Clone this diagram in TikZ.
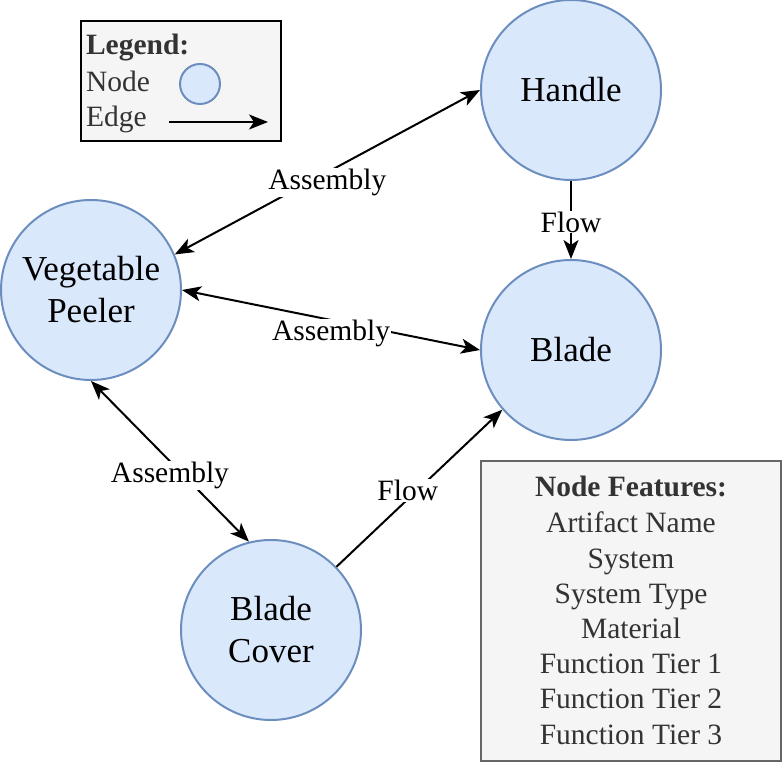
\documentclass[tikz,border=0pt]{standalone}
\usepackage{fontspec}
\setmainfont{Liberation Serif}
\usetikzlibrary{positioning, arrows.meta}

\definecolor{partfill}{HTML}{DAE8FC}
\definecolor{partline}{HTML}{6C8EBF}
\definecolor{boxfill}{HTML}{F5F5F5}
\definecolor{boxline}{HTML}{666666}
\definecolor{boxtext}{HTML}{333333}

\begin{document}
\begin{tikzpicture}[x=1pt,y=1pt,on grid,line width=2pt,
   >={Stealth[length=19pt,width=15pt,inset=5pt]},
   part/.style={circle,draw=partline,fill=partfill,minimum size=180pt,inner sep=0pt,
      align=center,font=\fontsize{35}{42}\selectfont},
   lbl/.style={fill=white,inner sep=1pt,font=\fontsize{29.5}{36}\selectfont},
   keytext/.style={anchor=base west,inner sep=0pt,text=boxtext,font=\fontsize{29.5}{36}\selectfont},
   feattext/.style={anchor=base,inner sep=0pt,text=boxtext,font=\fontsize{29.5}{36}\selectfont}]

   \useasboundingbox (0,0) rectangle (782,762);

   \node[part] (peeler) at (91,472) {Vegetable\\Peeler};
   \node[part] (handle) [above right=200pt and 480pt of peeler] {Handle};
   \node[part] (blade)  [below=260pt of handle] {Blade};
   \node[part] (cover)  [below right=340pt and 180pt of peeler] {Blade\\Cover};

   \path[<->]
   (peeler.23)    edge node[lbl,yshift=-10pt] {Assembly} (handle.180)
   (peeler.east)  edge node[lbl,yshift=-13pt] {Assembly} (blade.west)
   (peeler.south) edge node[lbl,yshift=-14pt] {Assembly} (cover.104);
   \path[->]
   (handle)   edge node[lbl,yshift=-2pt] {Flow} (blade)
   (cover.44) edge node[lbl,pos=0.43,yshift=9pt] {Flow} (blade.221);

   % legend
   \draw[fill=boxfill] (81,741) rectangle (281,621);
   \node[keytext,font=\fontsize{29.5}{36}\selectfont\bfseries] (keytitle) at (85,707) {Legend:};
   \node[keytext] (keynode) at (85,670) {Node};
   \node[keytext] (keyedge) at (85,635) {Edge};
   \node[circle,draw=partline,fill=partfill,minimum size=40pt,inner sep=0pt] (keycircle) at (200,678) {};
   \coordinate (keyfrom) at (169,640);
   \coordinate (keyto) at (268,640);
   \draw[->] (keyfrom) -- (keyto);

   % node features
   \draw[draw=boxline,fill=boxfill] (481,301) rectangle (781,1);
   \node[feattext,font=\fontsize{29.5}{36}\selectfont\bfseries] (feattitle) at (631,265) {Node Features:};
   \foreach \txt [count=\i from 0] in {Artifact Name, System, System Type, Material,
      Function Tier 1, Function Tier 2, Function Tier 3}
      \node[feattext] (feat\i) at (631,229-35.2*\i) {\txt};

\end{tikzpicture}
\end{document}
